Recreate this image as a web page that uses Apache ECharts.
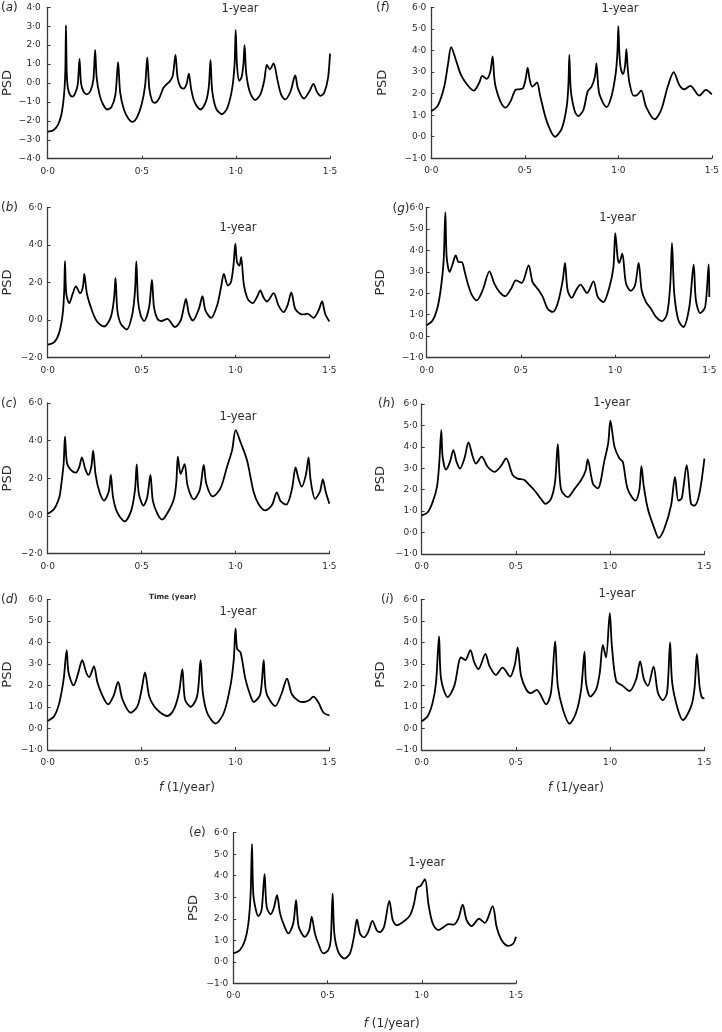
<!DOCTYPE html>
<html><head><meta charset="utf-8">
<script src="https://cdn.jsdelivr.net/npm/echarts@6/dist/echarts.min.js"></script>
<style>html,body{margin:0;padding:0;background:#fff}#c{width:722px;height:1032px}</style>
</head><body><div id="c"></div>
<script>
// PSD spectra: [f (1/year), PSD]
const psdA = [[0,-2.57],[0.03,-2.5],[0.055,-2.2],[0.072,-1.7],[0.083,-1.0],[0.09,-0.2],[0.094,0.8],[0.097,3.05],[0.101,0.6],[0.107,-0.25],[0.118,-0.62],[0.132,-0.72],[0.148,-0.5],[0.16,-0.05],[0.169,1.28],[0.177,0.0],[0.19,-0.45],[0.208,-0.6],[0.228,-0.4],[0.243,0.2],[0.252,1.75],[0.26,0.3],[0.275,-0.6],[0.295,-1.15],[0.318,-1.4],[0.34,-1.25],[0.36,-0.6],[0.374,1.1],[0.385,-0.5],[0.405,-1.4],[0.43,-1.9],[0.45,-2.05],[0.475,-1.8],[0.5,-1.1],[0.518,-0.1],[0.529,1.35],[0.54,-0.3],[0.555,-0.95],[0.568,-1.05],[0.59,-0.85],[0.615,-0.25],[0.63,-0.08],[0.65,0.1],[0.665,0.4],[0.679,1.48],[0.69,0.3],[0.705,-0.2],[0.722,-0.3],[0.738,-0.05],[0.75,0.5],[0.762,-0.3],[0.78,-1.0],[0.812,-1.4],[0.84,-1.0],[0.856,-0.2],[0.865,1.22],[0.874,-0.4],[0.895,-1.35],[0.926,-1.65],[0.955,-1.3],[0.98,-0.3],[0.993,1.0],[0.999,2.8],[1.006,0.9],[1.018,0.12],[1.03,0.3],[1.04,1.0],[1.046,2.0],[1.055,0.5],[1.075,-0.5],[1.103,-0.9],[1.13,-0.6],[1.15,0.1],[1.165,0.95],[1.18,0.72],[1.2,1.03],[1.22,0.2],[1.24,-0.6],[1.262,-0.87],[1.29,-0.45],[1.315,0.4],[1.33,-0.3],[1.362,-0.82],[1.39,-0.45],[1.412,-0.05],[1.43,-0.45],[1.45,-0.68],[1.47,-0.5],[1.49,0.3],[1.5,1.55]];
const psdB = [[0,-1.31],[0.035,-1.17],[0.062,-0.64],[0.08,0.34],[0.088,1.58],[0.092,3.13],[0.099,1.4],[0.115,0.9],[0.133,1.4],[0.15,1.79],[0.173,1.43],[0.188,1.8],[0.195,2.46],[0.209,1.4],[0.239,0.42],[0.265,-0.1],[0.3,-0.34],[0.336,0.16],[0.354,1.22],[0.361,2.25],[0.371,0.51],[0.389,-0.19],[0.421,-0.5],[0.451,0.34],[0.465,1.58],[0.472,3.12],[0.481,1.04],[0.495,0.25],[0.513,-0.05],[0.54,0.69],[0.555,2.14],[0.566,0.69],[0.584,0.07],[0.605,-0.05],[0.637,0.07],[0.678,-0.37],[0.708,-0.02],[0.725,0.69],[0.736,1.13],[0.752,0.34],[0.773,-0.02],[0.805,0.6],[0.824,1.27],[0.84,0.51],[0.87,0.12],[0.902,0.78],[0.923,1.75],[0.938,2.46],[0.959,1.84],[0.976,2.02],[0.99,2.99],[0.999,4.07],[1.008,3.08],[1.021,2.9],[1.03,3.35],[1.044,1.93],[1.065,1.13],[1.091,0.9],[1.114,1.22],[1.132,1.58],[1.15,1.19],[1.168,0.99],[1.203,1.43],[1.229,0.78],[1.256,0.42],[1.277,0.78],[1.297,1.47],[1.318,0.6],[1.344,0.34],[1.362,0.3],[1.383,0.34],[1.415,0.12],[1.442,0.51],[1.461,0.99],[1.477,0.34],[1.5,-0.07]];
const psdC = [[0,0.12],[0.035,0.39],[0.062,1.0],[0.071,1.56],[0.085,2.8],[0.092,4.21],[0.103,2.8],[0.124,2.44],[0.15,2.3],[0.168,2.6],[0.182,3.11],[0.2,2.5],[0.216,2.18],[0.232,2.6],[0.242,3.47],[0.255,2.2],[0.275,1.3],[0.3,0.82],[0.325,1.3],[0.336,2.18],[0.348,1.0],[0.37,0.2],[0.41,-0.28],[0.445,0.3],[0.465,1.4],[0.474,2.74],[0.485,1.2],[0.51,0.56],[0.53,1.0],[0.547,2.18],[0.56,0.8],[0.585,0.1],[0.61,-0.19],[0.64,0.2],[0.672,0.91],[0.685,1.8],[0.693,3.15],[0.708,2.23],[0.729,2.76],[0.745,1.6],[0.778,0.88],[0.81,1.4],[0.831,2.71],[0.845,1.7],[0.879,1.04],[0.92,1.47],[0.955,2.62],[0.982,3.5],[1.001,4.56],[1.026,3.94],[1.061,2.97],[1.097,1.26],[1.125,0.6],[1.159,0.3],[1.195,0.6],[1.22,1.26],[1.24,0.8],[1.27,0.6],[1.3,1.4],[1.32,2.58],[1.335,2.0],[1.353,1.56],[1.375,2.2],[1.389,3.11],[1.4,1.9],[1.424,0.91],[1.45,1.3],[1.465,1.95],[1.48,1.3],[1.5,0.65]];
const psdD = [[0,0.35],[0.035,0.58],[0.062,1.2],[0.085,2.29],[0.101,3.64],[0.111,2.6],[0.138,2.0],[0.16,2.5],[0.184,3.17],[0.205,2.6],[0.221,2.39],[0.246,2.88],[0.265,2.13],[0.292,1.51],[0.322,1.12],[0.35,1.5],[0.375,2.16],[0.398,1.35],[0.442,0.73],[0.478,1.04],[0.5,1.8],[0.518,2.6],[0.54,1.51],[0.566,1.04],[0.601,0.73],[0.637,0.58],[0.672,0.89],[0.699,1.66],[0.717,2.75],[0.731,1.35],[0.761,1.01],[0.796,1.51],[0.814,3.17],[0.826,1.66],[0.849,0.73],[0.894,0.23],[0.938,0.73],[0.973,1.98],[0.991,3.22],[1.0,4.65],[1.009,3.69],[1.027,3.53],[1.053,2.29],[1.08,1.51],[1.097,1.23],[1.132,1.59],[1.15,3.17],[1.164,1.66],[1.212,1.04],[1.247,1.66],[1.274,2.32],[1.3,1.59],[1.336,1.28],[1.362,1.23],[1.39,1.3],[1.415,1.48],[1.442,1.2],[1.469,0.73],[1.5,0.61]];
const psdE = [[0,0.39],[0.035,0.54],[0.062,1.0],[0.08,1.78],[0.092,3.17],[0.099,5.47],[0.106,3.17],[0.12,2.4],[0.133,2.12],[0.15,2.4],[0.166,4.07],[0.177,2.56],[0.198,2.21],[0.215,2.5],[0.232,3.1],[0.248,2.25],[0.269,1.7],[0.292,1.32],[0.318,1.78],[0.333,2.87],[0.347,1.63],[0.38,1.16],[0.403,1.47],[0.416,2.09],[0.433,1.32],[0.451,0.85],[0.478,0.39],[0.504,0.54],[0.517,1.0],[0.527,3.17],[0.536,1.32],[0.557,0.46],[0.589,0.15],[0.619,0.39],[0.64,1.16],[0.656,1.97],[0.672,1.32],[0.693,1.13],[0.716,1.39],[0.738,1.9],[0.761,1.47],[0.778,1.38],[0.8,1.63],[0.828,2.83],[0.846,1.94],[0.867,1.7],[0.902,1.86],[0.938,2.17],[0.959,2.71],[0.976,3.45],[0.994,3.53],[1.017,3.84],[1.035,2.71],[1.058,1.78],[1.088,1.47],[1.114,1.6],[1.141,1.75],[1.168,1.73],[1.194,2.01],[1.217,2.66],[1.238,1.94],[1.265,1.66],[1.304,2.0],[1.335,1.81],[1.376,2.59],[1.397,1.63],[1.424,1.0],[1.459,0.74],[1.486,0.85],[1.5,1.16]];
const psdF = [[0,1.19],[0.034,1.43],[0.069,2.32],[0.09,3.4],[0.106,4.15],[0.131,3.57],[0.158,2.88],[0.193,2.4],[0.228,2.14],[0.255,2.48],[0.273,2.82],[0.296,2.68],[0.315,3.0],[0.328,3.72],[0.336,2.8],[0.344,2.32],[0.37,1.63],[0.397,1.35],[0.423,1.63],[0.45,2.17],[0.468,2.2],[0.49,2.25],[0.505,2.7],[0.515,3.2],[0.527,2.6],[0.54,2.32],[0.552,2.4],[0.565,2.52],[0.583,1.86],[0.618,0.7],[0.662,0.0],[0.698,0.39],[0.724,1.4],[0.733,2.4],[0.738,3.79],[0.744,2.4],[0.75,1.86],[0.768,1.16],[0.786,0.96],[0.813,1.24],[0.836,2.09],[0.857,2.32],[0.875,2.8],[0.883,3.4],[0.892,2.4],[0.9,1.94],[0.937,1.37],[0.963,1.86],[0.986,2.94],[0.995,3.9],[1.0,5.13],[1.006,3.8],[1.013,3.17],[1.025,2.91],[1.036,3.3],[1.043,4.06],[1.05,3.2],[1.06,2.48],[1.081,1.91],[1.095,1.91],[1.122,2.14],[1.148,1.4],[1.194,0.81],[1.229,1.24],[1.264,2.32],[1.296,2.99],[1.326,2.4],[1.353,2.2],[1.385,2.36],[1.433,1.91],[1.468,2.17],[1.5,1.96]];
const psdG = [[0,0.51],[0.032,0.74],[0.058,1.36],[0.076,2.29],[0.09,3.53],[0.099,5.77],[0.106,3.68],[0.122,2.99],[0.138,3.37],[0.154,3.76],[0.17,3.45],[0.186,3.45],[0.2,3.07],[0.218,2.45],[0.241,1.9],[0.265,1.67],[0.297,2.14],[0.333,3.02],[0.359,2.45],[0.386,2.06],[0.416,1.86],[0.448,2.21],[0.474,2.6],[0.504,2.48],[0.541,3.3],[0.562,2.52],[0.589,2.21],[0.616,1.83],[0.642,1.28],[0.669,1.13],[0.695,1.52],[0.722,2.6],[0.734,3.41],[0.748,2.14],[0.77,1.78],[0.793,2.14],[0.816,2.4],[0.851,2.01],[0.885,2.55],[0.908,1.83],[0.938,1.59],[0.97,2.29],[0.991,3.22],[1.001,4.8],[1.014,3.61],[1.022,3.41],[1.038,3.84],[1.058,2.45],[1.084,2.11],[1.106,2.37],[1.125,3.41],[1.141,2.14],[1.164,1.59],[1.19,1.28],[1.217,0.9],[1.249,0.7],[1.276,1.05],[1.293,2.45],[1.302,4.33],[1.314,1.98],[1.336,0.74],[1.362,0.43],[1.394,1.36],[1.417,3.33],[1.429,1.67],[1.452,1.08],[1.478,1.36],[1.497,3.34],[1.5,1.83]];
const psdH = [[0,0.8],[0.032,0.95],[0.058,1.42],[0.081,2.13],[0.093,3.22],[0.104,4.78],[0.111,3.54],[0.129,2.94],[0.15,3.3],[0.168,3.85],[0.185,3.3],[0.203,2.99],[0.228,3.5],[0.248,4.21],[0.271,3.54],[0.288,3.22],[0.318,3.54],[0.35,3.07],[0.386,2.83],[0.42,3.1],[0.448,3.46],[0.483,2.68],[0.509,2.52],[0.545,2.45],[0.572,2.21],[0.6,1.95],[0.633,1.57],[0.656,1.34],[0.686,1.57],[0.708,2.4],[0.722,4.13],[0.739,2.03],[0.775,1.65],[0.81,2.03],[0.846,2.45],[0.87,2.9],[0.881,3.41],[0.908,2.29],[0.934,2.06],[0.97,3.38],[0.99,4.2],[1.001,5.22],[1.023,4.0],[1.049,3.46],[1.067,3.3],[1.093,2.03],[1.134,1.49],[1.155,2.0],[1.166,3.1],[1.178,2.18],[1.2,1.1],[1.235,0.18],[1.257,-0.25],[1.287,0.18],[1.323,1.26],[1.344,2.6],[1.362,1.49],[1.38,1.6],[1.406,3.15],[1.429,1.34],[1.447,1.26],[1.473,1.8],[1.5,3.45]];
const psdI = [[0,0.34],[0.032,0.58],[0.058,1.2],[0.076,2.13],[0.092,4.28],[0.103,2.29],[0.138,1.46],[0.173,1.98],[0.209,3.3],[0.232,3.18],[0.258,3.64],[0.279,3.07],[0.301,2.76],[0.338,3.46],[0.359,2.91],[0.394,2.49],[0.429,2.83],[0.469,2.41],[0.495,3.0],[0.509,3.77],[0.527,2.45],[0.554,1.82],[0.577,1.64],[0.61,1.79],[0.66,1.12],[0.686,1.67],[0.708,4.05],[0.722,1.98],[0.749,0.89],[0.784,0.22],[0.819,0.73],[0.846,1.82],[0.864,3.57],[0.872,2.13],[0.895,1.48],[0.926,1.82],[0.945,2.6],[0.961,3.88],[0.978,3.3],[0.998,5.36],[1.009,3.85],[1.032,2.21],[1.067,1.98],[1.103,1.74],[1.138,2.29],[1.159,3.12],[1.179,2.29],[1.2,1.98],[1.23,2.87],[1.253,1.67],[1.279,1.31],[1.302,1.67],[1.318,4.0],[1.329,2.13],[1.359,0.89],[1.386,0.39],[1.43,1.04],[1.448,1.9],[1.46,3.46],[1.474,1.98],[1.487,1.43],[1.5,1.4]];

const xMin = 0, xMax = 1.5, xStep = 0.5;
const yRangeA = [-4, 4, 1];
const yRangeBC = [-2, 6, 2];
const yRangeOther = [-1, 6, 1];
const panelLetters = ['a','b','c','d','e','f','g','h','i'];
const yearLabel = '1-year';
const yName = 'PSD';

const FONT = '"DejaVu Sans", Verdana, sans-serif';
const TXT = '#2b2b2b';
const AX = '#3a3a3a';

const layout = {
  a:{g:[46.7,7.3,283.3,151.4], r:yRangeA, gap:33.7, lm:7, lab:[1,8], yr:[240,9.5], d:psdA},
  b:{g:[46.7,207.3,282.7,150.4], r:yRangeBC, gap:33.7, lm:5, lab:[1,207.5], yr:[238,228], d:psdB},
  c:{g:[46.7,403,282.7,150.7], r:yRangeBC, gap:33.7, lm:5, lab:[1,404], yr:[238,416.7], d:psdC},
  d:{g:[46.7,599.3,282.7,150.7], r:yRangeOther, gap:33.7, lm:5, lab:[1,599.5], yr:[238,611.7], d:psdD},
  e:{g:[233.3,832.7,282.7,150.6], r:yRangeOther, gap:33.6, lm:5, lab:[189,833], yr:[426.7,862.7], d:psdE},
  f:{g:[431.3,7.3,282.4,151], r:yRangeOther, gap:42.3, lm:5, lab:[376,8], yr:[620,9], d:psdF},
  g:{g:[426.7,207.3,282.6,150.4], r:yRangeOther, gap:39.4, lm:3, lab:[392.5,208.5], yr:[617.7,218.3], d:psdG},
  h:{g:[421.7,404,282.7,150], r:yRangeOther, gap:34.4, lm:4, lab:[378,404], yr:[611.7,403.5], d:psdH},
  i:{g:[421.7,599.3,282.7,150.7], r:yRangeOther, gap:34.4, lm:4, lab:[381,599.5], yr:[617,594.5], d:psdI}
};

function fmt(v){
  const s = Math.abs(v).toFixed(1).replace('.', '\u00b7');
  return (v < -1e-9 ? '\u2212' : '') + s;
}

const grid = [], xAxis = [], yAxis = [], series = [], graphic = [];
panelLetters.forEach((k, i) => {
  const L = layout[k];
  grid.push({left:L.g[0], top:L.g[1], width:L.g[2], height:L.g[3], containLabel:false});
  xAxis.push({
    type:'value', gridIndex:i, min:xMin, max:xMax, interval:xStep,
    axisLine:{show:true, onZero:false, lineStyle:{color:AX, width:1.3}},
    axisTick:{show:true, inside:true, length:3, lineStyle:{color:AX, width:1}},
    axisLabel:{formatter:fmt, color:TXT, fontSize:9, fontFamily:FONT, margin:8},
    splitLine:{show:false}
  });
  yAxis.push({
    type:'value', gridIndex:i, min:L.r[0], max:L.r[1], interval:L.r[2],
    name:yName, nameLocation:'middle', nameGap:L.gap,
    nameTextStyle:{color:TXT, fontSize:13, fontFamily:FONT},
    axisLine:{show:true, onZero:false, lineStyle:{color:AX, width:1.3}},
    axisTick:{show:true, inside:true, length:3, lineStyle:{color:AX, width:1}},
    axisLabel:{formatter:fmt, color:TXT, fontSize:9, fontFamily:FONT, margin:L.lm},
    splitLine:{show:false}
  });
  series.push({
    type:'line', xAxisIndex:i, yAxisIndex:i, data:L.d, showSymbol:false,
    smooth:0.3, lineStyle:{color:'#000', width:1.8}, silent:true, animation:false
  });
  graphic.push({type:'text', x:L.lab[0], y:L.lab[1], style:{
    text:'({it|' + k + '})', font:'12px ' + FONT, fill:TXT, verticalAlign:'middle', align:'left',
    rich:{it:{fontStyle:'italic', fontSize:12, fontFamily:FONT, fill:TXT}}
  }});
  graphic.push({type:'text', x:L.yr[0], y:L.yr[1], style:{
    text:yearLabel, font:'11.5px ' + FONT, fill:TXT, align:'center', verticalAlign:'middle'
  }});
});

// axis titles
[[187,788],[576,788],[391.7,1024]].forEach(p => {
  graphic.push({type:'text', x:p[0], y:p[1], style:{
    text:'{it|f} (1/year)', font:'12px ' + FONT, fill:TXT, align:'center', verticalAlign:'middle',
    rich:{it:{fontStyle:'italic', fontSize:12, fontFamily:FONT, fill:TXT}}
  }});
});
graphic.push({type:'text', x:172.7, y:596.7, style:{
  text:'Time (year)', font:'bold 7.3px ' + FONT, fill:TXT, align:'center', verticalAlign:'middle'
}});

const chart = echarts.init(document.getElementById('c'), null, {renderer:'canvas'});
chart.setOption({animation:false, backgroundColor:'#fff', grid, xAxis, yAxis, series, graphic});
</script>
</body></html>
